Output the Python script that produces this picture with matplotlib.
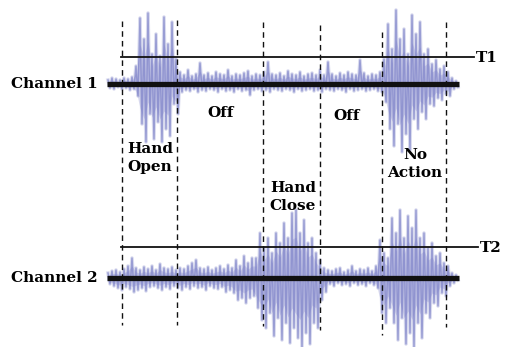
import numpy as np
import matplotlib
matplotlib.use("Agg")
import matplotlib.pyplot as plt

# signal envelopes, one pair (up, down) per 4 px time bin, in pixel units
bin_start = 108
bin_width = 4

ch1_up = [4, 6, 5, 4, 6, 5, 7,
          18, 66, 45, 71, 30, 50, 28, 67, 40, 62, 25,
          12, 9, 14, 8, 10, 21, 9, 11, 8, 12, 10, 9, 14, 8, 10, 9, 11, 13,
          8, 10, 9, 12, 22, 10, 9, 11, 8, 13, 10, 9, 12, 8, 10, 11, 9, 14,
          9, 22, 10, 8, 11, 9, 12, 10, 9, 24, 11, 8, 10, 9, 12,
          25, 60, 35, 74, 45, 55, 30, 69, 50, 62, 30, 35, 20, 24, 15, 18, 12, 6, 3]
ch1_down = [4, 5, 3, 5, 4, 6, 5,
            12, 40, 58, 30, 55, 38, 58, 45, 52, 20, 30,
            8, 6, 7, 5, 8, 6, 7, 5, 6, 8, 5, 7, 6, 8, 5, 7, 6, 11,
            6, 5, 7, 6, 8, 5, 6, 7, 5, 6, 8, 5, 7, 6, 5, 7, 6, 8,
            5, 6, 7, 5, 6, 8, 5, 7, 6, 5, 7, 6, 5, 7, 8,
            18, 45, 62, 40, 68, 50, 66, 35, 45, 28, 35, 20, 22, 14, 16, 10, 12, 5, 3]

ch2_up = [5, 7, 8, 6, 9, 12, 20, 10, 8, 11, 9, 12, 8, 14, 10, 9,
          11, 8, 10, 9, 12, 15, 18, 10, 9, 11, 8, 10, 12, 9, 13, 10, 18,
          12, 22, 15, 20, 20, 45, 30, 40, 25, 45, 35, 55, 40, 65, 68, 45,
          58, 35, 40, 25, 18, 10,
          8, 7, 9, 10, 6, 8, 12, 7, 9, 8, 10, 7, 12,
          38, 25, 20, 60, 45, 68, 40, 62, 50, 68, 40, 45, 30, 35, 22, 25, 15, 12, 5, 3]
ch2_down = [6, 8, 10, 12, 9, 11, 14, 12, 10, 13, 9, 8, 10, 12, 9, 11,
            8, 10, 12, 9, 11, 8, 10, 9, 12, 8, 10, 11, 9, 14, 12, 15, 22,
            20, 25, 20, 18, 30, 42, 50, 35, 58, 40, 62, 45, 65, 50, 60, 69,
            55, 66, 45, 50, 22, 14,
            6, 8, 5, 7, 6, 8, 5, 7, 6, 8, 5, 7, 10,
            35, 45, 30, 45, 62, 40, 66, 55, 69, 45, 60, 35, 40, 25, 28, 15, 18, 8, 5, 2]

channel_names = ["Channel 1", "Channel 2"]
baselines = [84, 278]
thresholds = [57, 247]
threshold_names = ["T1", "T2"]
threshold_ends = [474, 478]

# event boundaries (dashed lines) and their labels
boundaries = [122, 177, 263, 320, 382, 446]
dash_tops = [21, 20, 22, 25, 32, 22]
dash_bottoms = [325, 325, 326, 330, 335, 327]
labels = ["Hand\nOpen", "Off", "Hand\nClose", "Off", "No\nAction"]
label_pos = [(150, 158), (221, 113), (293, 197), (347, 116), (415, 164)]

signal_color = "#6f74c2"
font = dict(family="DejaVu Serif", fontweight="bold", fontsize=11, color="black")


def trace(up, down, base):
    xs, ys = [], []
    for i, (u, d) in enumerate(zip(up, down)):
        x = bin_start + i * bin_width
        xs += [x, x + bin_width / 2]
        ys += [base - u, base + d]
    return np.array(xs), np.array(ys)


fig = plt.figure(figsize=(5.06, 3.47), dpi=100)
ax = fig.add_axes([0, 0, 1, 1])
ax.set_xlim(0, 506)
ax.set_ylim(347, 0)
ax.axis("off")

# EMG traces: faint envelope fill, soft wide pass, then a sharper one
for up, down, base in [(ch1_up, ch1_down, baselines[0]), (ch2_up, ch2_down, baselines[1])]:
    xs, ys = trace(up, down, base)
    bx = bin_start + np.arange(len(up)) * bin_width
    ax.fill_between(bx, base - np.array(up) * 0.6, base + np.array(down) * 0.6,
                    color=signal_color, alpha=0.22, lw=0)
    ax.plot(xs, ys, color=signal_color, lw=2.6, alpha=0.25)
    ax.plot(xs, ys, color=signal_color, lw=1.1, alpha=0.6)

# baselines, thresholds and channel names
for name, base, thr, tname, tend in zip(channel_names, baselines, thresholds,
                                        threshold_names, threshold_ends):
    ax.plot([107, 459], [base, base], color="#111111", lw=3.8, solid_capstyle="butt")
    ax.plot([121, tend], [thr, thr], color="#111111", lw=1.3)
    ax.text(98, base, name, ha="right", va="center", **font)
    ax.text(tend + 2, thr + 1, tname, ha="left", va="center", **font)

# dashed event boundaries
for x, top, bottom in zip(boundaries, dash_tops, dash_bottoms):
    ax.plot([x, x], [top, bottom], color="#111111", lw=1.0, linestyle=(0, (4, 3)))

for text, (x, y) in zip(labels, label_pos):
    ax.text(x, y, text, ha="center", va="center", linespacing=1.45, **font)

plt.savefig("out.png", dpi=100)
